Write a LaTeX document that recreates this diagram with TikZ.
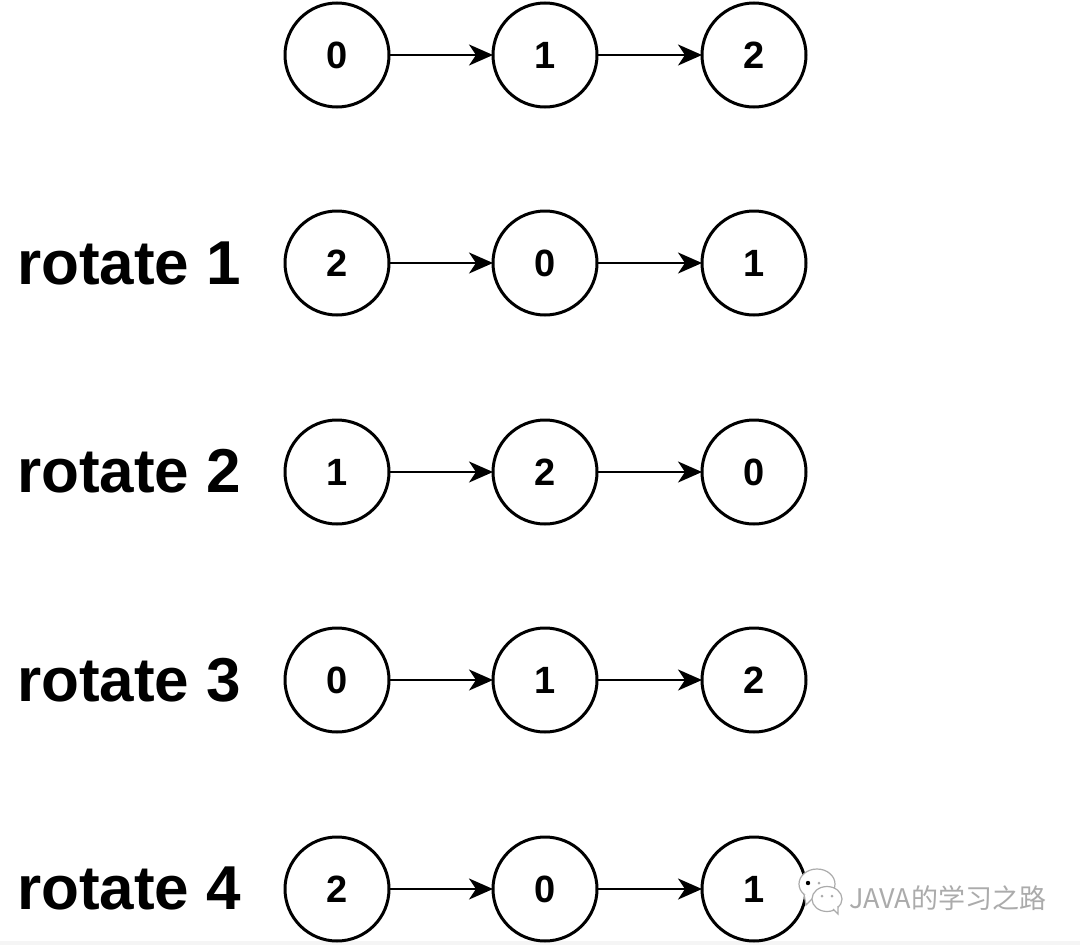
\documentclass[tikz,border=0pt]{standalone}
\usepackage{fontspec}
\setmainfont{Liberation Sans}
\newfontfamily\cjk{Noto Sans CJK SC}
\usetikzlibrary{arrows.meta}
\definecolor{wm}{HTML}{ABABAB}
\tikzset{
  x=1pt,y=-1pt,
  listnode/.style={circle,draw=black,line width=3pt,fill=white,minimum size=104pt,inner sep=0pt,outer sep=0pt,font=\fontsize{38}{38}\bfseries},
  link/.style={line width=2.6pt,draw=black,-{Stealth[length=24pt,width=21pt,inset=7pt]}},
  rowlabel/.style={anchor=base west,inner sep=0pt,font=\fontsize{62}{62}\bfseries},
  bubble/.style={draw=wm,line width=1.2pt,fill=white}
}
\begin{document}
\begin{tikzpicture}
\useasboundingbox (0,0) rectangle (1080,945);
\fill[white] (0,0) rectangle (1080,945);
\fill[black!4] (0,941) rectangle (1080,945);
\foreach \r/\y/\a/\b/\c in {a/55/0/1/2,b/263/2/0/1,c/472/1/2/0,d/680/0/1/2,e/889/2/0/1}{
  \node[listnode] (\r1) at (337,\y) {\a};
  \node[listnode] (\r2) at (545,\y) {\b};
  \node[listnode] (\r3) at (754,\y) {\c};
  \draw[link] (\r1) -- (\r2);
  \draw[link] (\r2) -- (\r3);
}
\node[rowlabel] (l1) at (17,284) {rotate 1};
\node[rowlabel] (l2) at (17,492) {rotate 2};
\node[rowlabel] (l3) at (17,701) {rotate 3};
\node[rowlabel] (l4) at (17,909) {rotate 4};
% watermark icon
\draw[bubble] (817,884) ellipse (18 and 15);
\draw[bubble] (804,894) -- (806,905) -- (813,898);
\fill[black] (808,883) circle (2.2);
\fill[wm] (819,883) circle (1.5);
\draw[bubble] (827,899) ellipse (15 and 12.5);
\draw[bubble] (833,909) -- (838,914) -- (838,906);
\fill[wm] (822,896) circle (1.5);
\fill[wm] (832,896) circle (1.5);
\node[anchor=base west,inner sep=0pt,text=wm,font=\cjk\fontsize{27}{27}\selectfont] (wmtext) at (849,908) {JAVA的学习之路};
\end{tikzpicture}
\end{document}
